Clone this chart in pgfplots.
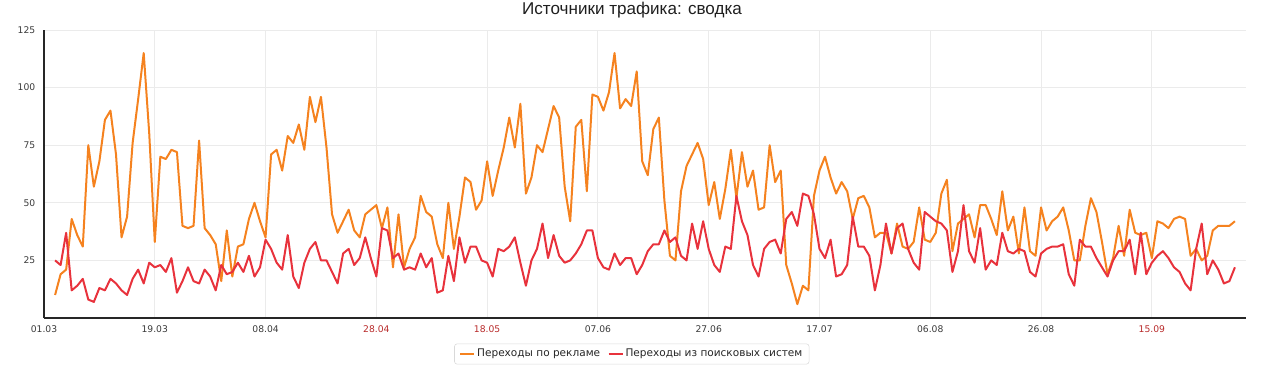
\documentclass[border=0pt]{standalone}
\usepackage{fontspec}
\setmainfont{DejaVu Sans}
\newfontfamily\titlefont{Liberation Sans}
\usepackage{pgfplots}
\usepackage{pgfplotstable}
\pgfplotsset{compat=1.18}
\definecolor{adsorange}{HTML}{F5821F}
\definecolor{searchred}{HTML}{E8323C}
\definecolor{gridc}{HTML}{EBEBEB}
\definecolor{tickc}{HTML}{3A3A3A}
\definecolor{wkred}{HTML}{B82A2A}

\pgfplotstableread{
d a s
0 10 25
1 19 23
2 21 37
3 43 12
4 36 14
5 31 17
6 75 8
7 57 7
8 68 13
9 86 12
10 90 17
11 71 15
12 35 12
13 44 10
14 76 17
15 95 21
16 115 15
17 80 24
18 33 22
19 70 23
20 69 20
21 73 26
22 72 11
23 40 16
24 39 22
25 40 16
26 77 15
27 39 21
28 36 18
29 32 12
30 16 23
31 38 19
32 18 20
33 31 24
34 32 20
35 43 27
36 50 18
37 42 22
38 35 34
39 71 30
40 73 24
41 64 21
42 79 36
43 76 18
44 84 13
45 73 24
46 96 30
47 85 33
48 96 25
49 74 25
50 45 20
51 37 15
52 42 28
53 47 30
54 38 23
55 35 26
56 45 35
57 47 26
58 49 18
59 39 39
60 48 38
61 22 26
62 45 28
63 22 21
64 30 22
65 35 21
66 53 28
67 46 22
68 44 26
69 32 11
70 26 12
71 50 27
72 30 16
73 44 35
74 61 24
75 59 31
76 47 31
77 51 25
78 68 24
79 53 18
80 64 30
81 74 29
82 87 31
83 74 35
84 93 24
85 54 14
86 61 25
87 75 30
88 72 41
89 82 26
90 92 36
91 87 27
92 57 24
93 42 25
94 83 28
95 86 32
96 55 38
97 97 38
98 96 26
99 90 22
100 98 21
101 115 28
102 91 23
103 95 26
104 92 26
105 107 19
106 68 23
107 62 29
108 82 32
109 87 32
110 51 38
111 27 33
112 25 35
113 55 27
114 66 25
115 71 41
116 76 30
117 69 42
118 49 30
119 59 23
120 43 20
121 56 31
122 73 30
123 52 53
124 72 42
125 57 36
126 64 23
127 47 18
128 48 30
129 75 33
130 59 34
131 64 28
132 23 43
133 15 46
134 6 40
135 14 54
136 12 53
137 53 45
138 64 30
139 70 26
140 61 34
141 54 18
142 59 19
143 55 23
144 43 44
145 52 31
146 53 31
147 48 27
148 35 12
149 37 23
150 37 41
151 28 28
152 41 39
153 31 41
154 30 30
155 33 24
156 48 21
157 34 46
158 33 44
159 37 42
160 54 41
161 60 38
162 29 20
163 41 29
164 43 49
165 45 29
166 35 24
167 49 39
168 49 21
169 43 25
170 36 23
171 55 37
172 38 29
173 44 28
174 28 30
175 48 29
176 29 20
177 27 18
178 48 28
179 38 30
180 42 31
181 44 31
182 48 32
183 38 19
184 25 14
185 25 34
186 40 31
187 52 31
188 46 26
189 33 22
190 19 18
191 26 25
192 40 29
193 27 29
194 47 34
195 37 19
196 36 37
197 37 19
198 26 24
199 42 27
200 41 29
201 39 26
202 43 22
203 44 20
204 43 15
205 27 12
206 30 30
207 25 41
208 27 19
209 38 25
210 40 21
211 40 15
212 40 16
213 42 22
}\traffic

\begin{document}
\begin{tikzpicture}
\path[use as bounding box] (0pt,0pt) rectangle (960pt,-283.5pt);
\node[anchor=base, font=\titlefont\fontsize{12.8}{15}\selectfont, text=black!88] at (474pt,-11.25pt) {Источники трафика: сводка};
\begin{axis}[
  at={(33pt,-238.5pt)}, anchor=south west,
  scale only axis, width=901.5pt, height=216pt,
  xmin=-2, xmax=215, ymin=0, ymax=125,
  axis x line*=bottom, axis y line*=left,
  axis line style={black!85, line width=0.8pt, -},
  xtick={-2,18,38,58,78,98,118,138,158,178,198},
  xticklabels={01.03,19.03,08.04,\textcolor{wkred}{28.04},\textcolor{wkred}{18.05},07.06,27.06,17.07,06.08,26.08,\textcolor{wkred}{15.09}},
  ytick={25,50,75,100,125},
  /pgf/number format/assume math mode=true,
  grid=major, major grid style={gridc, line width=0.75pt},
  major tick length=0pt,
  tick label style={font=\fontsize{6.9}{8}\selectfont, text=tickc},
  xticklabel style={yshift=-2pt},
  yticklabel style={xshift=-3pt},
  legend style={at={(0.489,-0.125)}, anchor=center, draw=black!15, rounded corners=2pt,
    font=\fontsize{7.9}{9.5}\selectfont, text=black!85, inner xsep=3.5pt, inner ysep=2.5pt,
    nodes={inner sep=1.5pt}},
  legend columns=2,
  legend cell align=left,
  /tikz/every even column/.append style={column sep=4pt},
  legend image code/.code={\draw[#1, line width=1.5pt] (0pt,0pt) -- (10.5pt,0pt);},
]
\addplot[adsorange, line width=1.5pt, line join=round, mark=none] table[x=d, y=a] {\traffic};
\addlegendentry{Переходы по рекламе}
\addplot[searchred, line width=1.5pt, line join=round, mark=none] table[x=d, y=s] {\traffic};
\addlegendentry{Переходы из поисковых систем}
\end{axis}
\end{tikzpicture}
\end{document}
